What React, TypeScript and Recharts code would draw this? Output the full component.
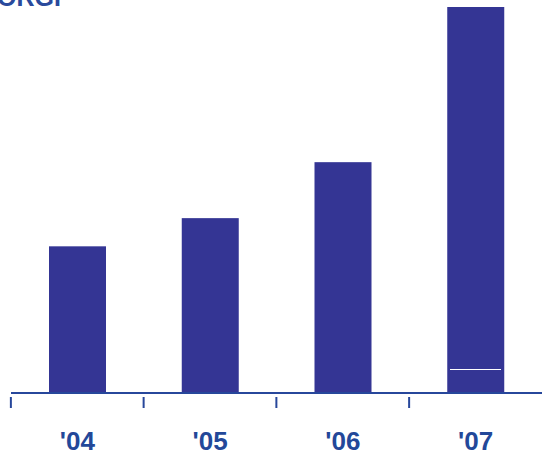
import React from 'react';
import { BarChart, Bar, XAxis, YAxis } from 'recharts';

const years = ["'04", "'05", "'06", "'07"];
const values = [38, 45.3, 59.8, 100];

const BAR = '#343594';
const AXIS = '#27479b';

const YearTick = (props: any) => {
  const { x, y, payload } = props;
  const band = 133;
  const left = x - band / 2;
  return (
    <g>
      <line x1={left} y1={y - 4} x2={left} y2={y + 7} stroke={AXIS} strokeWidth={2} />
      <text x={x} y={y + 49} textAnchor="middle" fill="#234899" fontFamily="'Liberation Sans', Arial, sans-serif" fontWeight="bold" fontSize={26}>
        {payload.value}
      </text>
    </g>
  );
};

const BarShape = (props: any) => {
  const { x, y, width, height, index } = props;
  const lineY = Math.round(y + height - 24) + 0.5;
  return (
    <g>
      <rect x={x} y={y} width={width} height={height} fill={BAR} />
      {index === years.length - 1 && (
        <line x1={x + 3} x2={x + width - 3} y1={lineY} y2={lineY} stroke="#ffffff" strokeWidth={1} shapeRendering="crispEdges" />
      )}
    </g>
  );
};

const App: React.FC = () => {
  const data = years.map((year, i) => ({ year, value: values[i] }));
  return (
    <div style={{ position: 'absolute', left: 0, top: 0, width: 542, height: 456, background: '#fff', overflow: 'hidden' }}>
      <div
        style={{
          position: 'absolute',
          left: -3,
          top: -18,
          fontFamily: "'Liberation Sans', Arial, sans-serif",
          fontWeight: 'bold',
          fontSize: 25,
          lineHeight: '30px',
          color: '#2a4a9c',
        }}
      >
        ORGP
      </div>
      <BarChart width={542} height={456} data={data} margin={{ top: 7, right: 0, left: 11, bottom: 0 }} barCategoryGap={38}>
        <YAxis hide domain={[0, 100]} />
        <XAxis
          dataKey="year"
          height={63}
          axisLine={{ stroke: AXIS, strokeWidth: 2 }}
          tickLine={false}
          tick={<YearTick />}
          interval={0}
        />
        <Bar dataKey="value" fill={BAR} shape={<BarShape />} isAnimationActive={false} />
      </BarChart>
    </div>
  );
};

export default App;
